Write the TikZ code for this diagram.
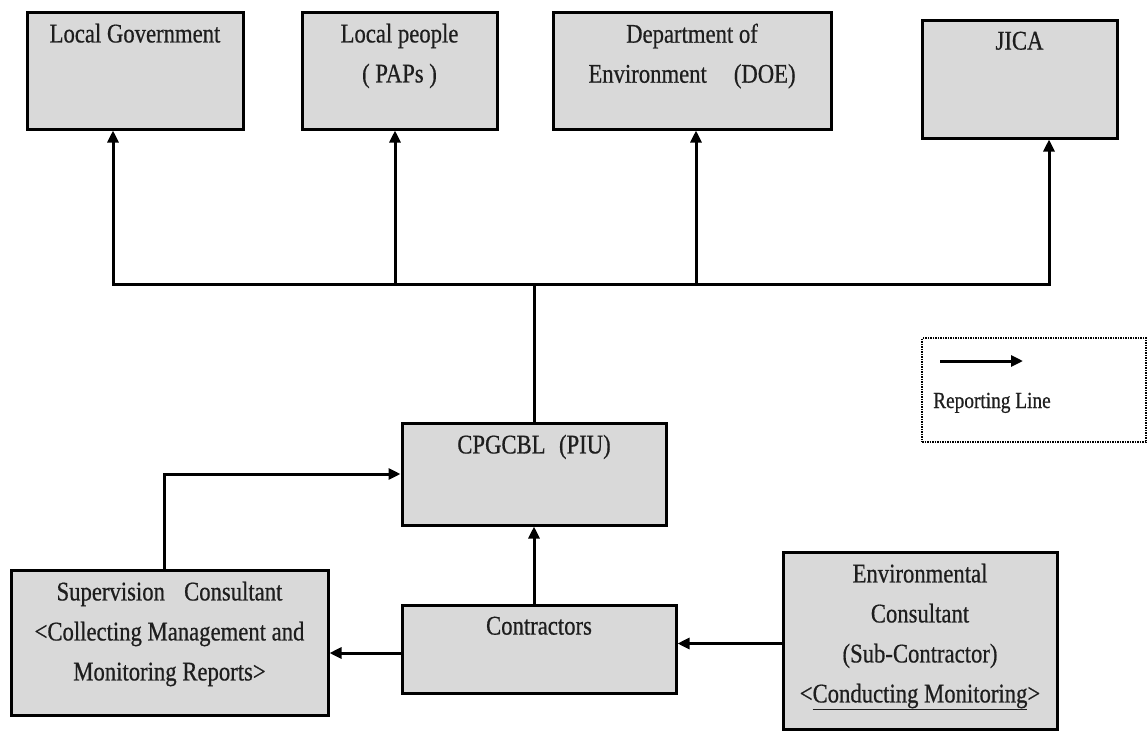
\documentclass[tikz,border=0pt]{standalone}
\usepackage{fontspec}
\setmainfont[FakeStretch=0.84, FakeBold=0.6]{Liberation Serif}
\usepackage{tikz}
\usetikzlibrary{arrows.meta}
\definecolor{Box_Gray}{HTML}{D9D9D9}
\definecolor{Ink}{HTML}{1E1E1E}

\begin{document}
\begin{tikzpicture}[x=1pt, y=-1pt,
    box/.style={draw, line width=3pt, fill=Box_Gray, inner sep=0pt},
    toptext/.style={anchor=north, inner sep=0pt, yshift=-13pt, align=center, text=Ink, font=\fontsize{27}{40}\selectfont},
    report/.style={line width=3pt, -{Triangle[length=12pt, width=11pt]}}]
    \useasboundingbox (0,0) rectangle (1148,731);

    % reporting destinations
    \node[box, minimum width=216pt, minimum height=117pt, label={[toptext]north:Local Government}] (gov) at (135,70.5) {};
    \node[box, minimum width=195pt, minimum height=117pt, label={[toptext]north:Local people\\(~PAPs~)}] (paps) at (399.5,70.5) {};
    \node[box, minimum width=278pt, minimum height=117pt, label={[toptext]north:Department of\\Environment\quad(DOE)}] (doe) at (692,70.5) {};
    \node[box, minimum width=195pt, minimum height=118pt, label={[toptext]north:JICA}] (jica) at (1019.5,79) {};

    % implementing side
    \node[box, minimum width=264pt, minimum height=102pt, label={[toptext]north:CPGCBL\enspace(PIU)}] (piu) at (534,474) {};
    \node[box, minimum width=274pt, minimum height=88pt, label={[toptext]north:Contractors}] (con) at (539,649) {};
    \node[box, minimum width=317pt, minimum height=145pt, label={[toptext]north:Supervision\enspace\ Consultant\\<Collecting Management and\\Monitoring Reports>}] (sup) at (169.5,642.5) {};
    \node[box, minimum width=274pt, minimum height=177pt, label={[toptext]north:Environmental\\Consultant\\(Sub-Contractor)\\<\underline{Conducting Monitoring}>}] (env) at (920,640.5) {};

    % bus line to the top row
    \coordinate (bus1) at (113,284);
    \coordinate (bus2) at (395,284);
    \coordinate (bus3) at (696,284);
    \coordinate (bus4) at (1049,284);
    \draw[line width=3pt, {Triangle[length=12pt, width=11pt]}-{Triangle[length=12pt, width=11pt]}]
        (bus1 |- gov.south) -- (bus1) -- (bus4) -- (bus4 |- jica.south);
    \draw[report] (bus2) -- (bus2 |- paps.south);
    \draw[report] (bus3) -- (bus3 |- doe.south);
    \draw[line width=3pt] (piu.north) -- (piu.north |- bus1);

    % reports from the field
    \draw[report] ([xshift=-5pt]sup.north) |- (piu.west);
    \draw[report] (con.north -| piu.south) -- (piu.south);
    \draw[report] ([yshift=-4pt]con.west) -- ([yshift=-4pt]con.west -| sup.east);
    \draw[report] ([yshift=-3pt]env.west) -- ([yshift=-3pt]env.west -| con.east);

    % legend
    \node[draw, densely dotted, line width=1.5pt, minimum width=224pt, minimum height=104pt, inner sep=0pt] (legend) at (1034,390) {};
    \coordinate (keyA) at (940,361);
    \coordinate (keyB) at (1023,361);
    \draw[report] (keyA) -- (keyB);
    \node[anchor=base west, inner sep=0pt, text=Ink, font=\fontsize{23}{28}\selectfont] (keytext) at (933,408) {Reporting Line};
\end{tikzpicture}
\end{document}
